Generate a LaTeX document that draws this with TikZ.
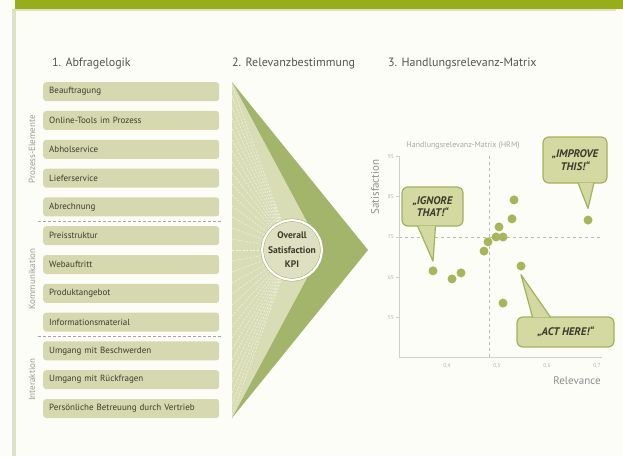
\documentclass[tikz,border=0pt]{standalone}
\usepackage{fontspec}
\setmainfont{PT Sans}
\usetikzlibrary{positioning,calc}
\definecolor{pagefill}{HTML}{FDFDF8}
\definecolor{barfill}{HTML}{97AE1A}
\definecolor{stripfill}{HTML}{DEE2C2}
\definecolor{itemfill}{HTML}{D6D8AF}
\definecolor{itemtext}{HTML}{3C3C30}
\definecolor{headtext}{HTML}{55554F}
\definecolor{grptext}{HTML}{9C9C92}
\definecolor{tridark}{HTML}{A3B46B}
\definecolor{trilight}{HTML}{D9DDB6}
\definecolor{kpifill}{HTML}{DEE0C1}
\definecolor{kpiedge}{HTML}{9FAE6A}
\definecolor{dotfill}{HTML}{A8B55A}
\definecolor{bubfill}{HTML}{D4D9A2}
\definecolor{bubedge}{HTML}{A0B25C}
\definecolor{bubtext}{HTML}{3A3A2C}
\definecolor{axisgray}{HTML}{CFCFCB}

\begin{document}
\begin{tikzpicture}[x=1pt, y=1pt,
    qitem/.style={fill=itemfill, rounded corners=3pt, minimum height=19pt,
                  text width=164pt, inner xsep=6pt, inner ysep=0pt, align=left,
                  font=\fontsize{9}{10}\selectfont, text=itemtext},
    colhead/.style={anchor=west, inner sep=0pt, font=\fontsize{12}{14}\selectfont,
                    text=headtext},
    grplabel/.style={rotate=90, inner sep=0pt, font=\fontsize{9}{10}\selectfont,
                     text=grptext},
    grpsep/.style={draw=gray!70, line width=0.7pt, dash pattern=on 2.5pt off 2.5pt},
    ray/.style={draw=white, opacity=0.7, line width=0.45pt, dash pattern=on 2pt off 1.5pt},
    kpi/.style={circle, fill=kpifill, draw=kpiedge, double=white,
                double distance=2.2pt, line width=0.5pt, minimum size=50pt,
                inner sep=0pt, align=center, text=bubtext,
                font=\fontsize{9.5}{14.5}\selectfont\bfseries},
    axisline/.style={draw=axisgray, line width=0.9pt},
    guide/.style={draw=gray!55, line width=0.7pt, dash pattern=on 3pt off 3pt},
    ticklbl/.style={inner sep=0pt, font=\fontsize{5.5}{6}\selectfont, text=gray!60},
    axislbl/.style={inner sep=0pt, font=\fontsize{11}{12}\selectfont, text=gray!90},
    datadot/.style={circle, fill=dotfill, minimum size=9pt, inner sep=0pt},
    callbox/.style={fill=bubfill, draw=bubedge, line width=1.2pt, rounded corners=6pt,
                    align=center, inner sep=3pt, text=bubtext,
                    font=\fontsize{11}{12.5}\selectfont\bfseries\itshape},
    ptr/.style={fill=bubfill, draw=bubedge, line width=1.2pt, line join=round}
  ]
  \fill[pagefill] (0,0) rectangle (623,456);
  \fill[barfill] (15,447) rectangle (623,456);
  \fill[stripfill] (12,0) rectangle (16,447);
  \fill[stripfill] (16,445) rectangle (616,447);

  \node[colhead] (abfrage) at (52,392) {1. Abfragelogik};
  \node[colhead] (relevanz) at (232,392) {2. Relevanzbestimmung};
  \node[colhead] (matrix) at (388,392) {3. Handlungsrelevanz-Matrix};

  \node[qitem, anchor=north west] (auftrag) at (43,374) {Beauftragung};
  \node[qitem, below=9.4pt of auftrag] (tools) {Online-Tools im Prozess};
  \node[qitem, below=9.4pt of tools] (abhol) {Abholservice};
  \node[qitem, below=9.4pt of abhol] (liefer) {Lieferservice};
  \node[qitem, below=9.4pt of liefer] (abrechnung) {Abrechnung};
  \node[qitem, below=9.4pt of abrechnung] (preis) {Preisstruktur};
  \node[qitem, below=9.4pt of preis] (web) {Webauftritt};
  \node[qitem, below=9.4pt of web] (produkt) {Produktangebot};
  \node[qitem, below=9.4pt of produkt] (infomat) {Informationsmaterial};
  \node[qitem, below=9.4pt of infomat] (beschwerde) {Umgang mit Beschwerden};
  \node[qitem, below=9.4pt of beschwerde] (rueckfrage) {Umgang mit Rückfragen};
  \node[qitem, below=9.4pt of rueckfrage] (betreuung) {Persönliche Betreuung durch Vertrieb};

  \draw[grpsep] ($(abrechnung.south west)!0.5!(preis.north west)+(-5,0)$) -- ++(184,0);
  \draw[grpsep] ($(infomat.south west)!0.5!(beschwerde.north west)+(-5,0)$) -- ++(184,0);

  \node[grplabel] (prozess) at ($(auftrag.west)!0.5!(abrechnung.west)+(-11,0)$) {Prozess-Elemente};
  \node[grplabel] (kommunikation) at ($(preis.west)!0.5!(infomat.west)+(-11,0)$) {Kommunikation};
  \node[grplabel] (interaktion) at ($(beschwerde.west)!0.5!(betreuung.west)+(-11,0)$) {Interaktion};

  \coordinate (kpictr) at (292,206);
  \fill[tridark] (232,374) -- (368,206) -- (232,38) -- cycle;
  \fill[trilight] (232,374) -- (322,206) -- (232,38) -- cycle;
  \begin{scope}
    \clip (232,374) -- (322,206) -- (232,38) -- cycle;
    \foreach \y in {41,52,...,371}
      \draw[ray] (232,\y) -- (kpictr);
  \end{scope}
  \node[kpi] (kpi) at (kpictr) {Overall\\Satisfaction\\KPI};

  \begin{scope}[shift={(247,-83.25)}, x=500pt, y=4.03pt]
    \draw[guide] (0.304,75) -- (0.712,75);
    \draw[guide] (0.484,95) -- (0.484,45);
    \draw[axisline] (0.304,95) -- (0.304,45) -- (0.71,45);
    \foreach \s in {55,65,75,85,95} {
      \draw[axisline] (0.304,\s) -- ++(-3pt,0);
      \node[ticklbl, left=5pt] (ty\s) at (0.304,\s) {\s};
    }
    \foreach \r/\t [count=\k] in {0.4/{0,4}, 0.5/{0,5}, 0.6/{0,6}, 0.7/{0,7}}
      \node[ticklbl, below=5pt] (tx\k) at (\r,45) {\t};
    \node[ticklbl, font=\fontsize{8}{9}\selectfont, text=gray!70] (hrm) at (0.432,97.8)
      {Handlungsrelevanz-Matrix (HRM)};
    \node[axislbl, rotate=90] (satlbl) at (0.256,87.4) {Satisfaction};
    \node[axislbl] (rellbl) at (0.66,39.3) {Relevance};

    \foreach \r/\s [count=\k] in {0.534/84.2, 0.530/79.5, 0.682/79.2, 0.504/77.5,
        0.498/75.0, 0.512/75.0, 0.482/73.8, 0.474/71.5, 0.548/67.8,
        0.372/66.6, 0.410/64.6, 0.428/66.1, 0.512/58.6}
      \node[datadot] (d\k) at (\r,\s) {};
  \end{scope}

  \node[callbox, minimum width=61pt, minimum height=39pt] (ignore) at (432.5,249.5)
    {„IGNORE\\THAT!“};
  \node[callbox, minimum width=64pt, minimum height=46pt] (improve) at (575,296)
    {„IMPROVE\\THIS!“};
  \node[callbox, minimum width=97pt, minimum height=30pt] (acthere) at (565.5,124)
    {„ACT HERE!“};
  \filldraw[ptr] ($(ignore.south)+(-15,0.8)$) -- ($(d10.north)+(0,5)$)
    -- ($(ignore.south)+(3,0.8)$);
  \filldraw[ptr] ($(improve.south)+(3,0.8)$) -- ($(d3.north)+(0,7)$)
    -- ($(improve.south)+(19,0.8)$);
  \filldraw[ptr] ($(acthere.north)+(-33,-0.8)$) -- ($(d9.south)+(0,-4)$)
    -- ($(acthere.north)+(-15,-0.8)$);
\end{tikzpicture}
\end{document}
